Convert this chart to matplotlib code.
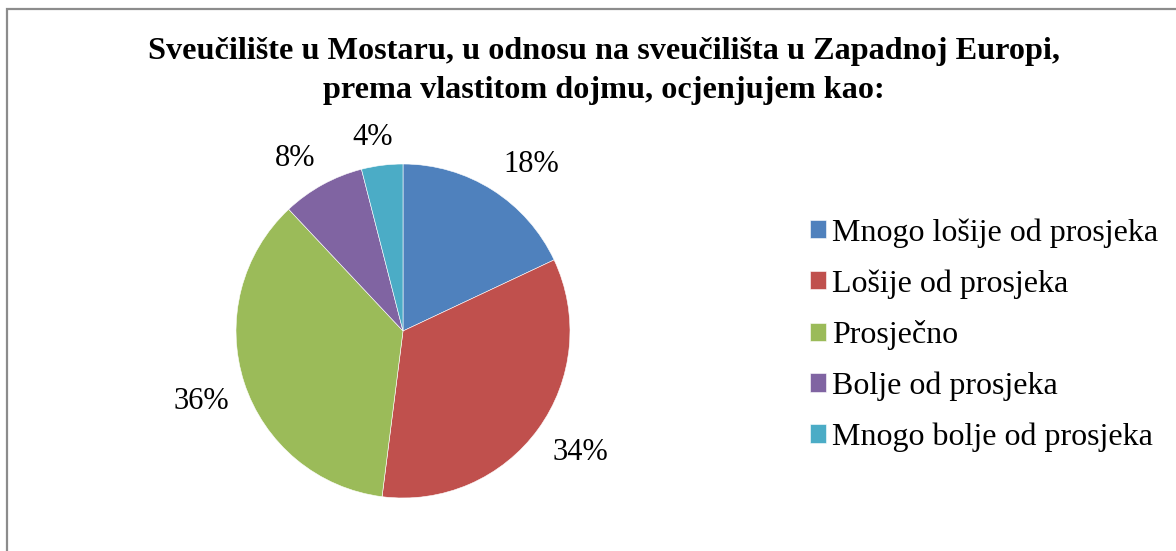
import matplotlib
matplotlib.use("Agg")
import numpy as np
import matplotlib.pyplot as plt
from matplotlib.patches import Rectangle

plt.rcParams['font.family'] = ['Liberation Serif', 'DejaVu Serif']

# data
categories = ['Mnogo lošije od prosjeka', 'Lošije od prosjeka', 'Prosječno',
              'Bolje od prosjeka', 'Mnogo bolje od prosjeka']
shares = [18, 34, 36, 8, 4]
colors = ['#4F81BD', '#C0504D', '#9BBB59', '#8064A2', '#4BACC6']
title = 'Sveučilište u Mostaru, u odnosu na sveučilišta u Zapadnoj Europi,\nprema vlastitom dojmu, ocjenjujem kao:'

W, H = 1176, 551
fig = plt.figure(figsize=(W / 100, H / 100), dpi=100)

# chart border (runs off right/bottom edge like the crop)
fig.patches.append(Rectangle((7 / W, -0.05), 1.2, (H - 9) / H + 0.05,
                             transform=fig.transFigure, fill=False,
                             edgecolor='#8c8c8c', linewidth=1.6))

# pie axes: centre (403, 331) px, radius 167 px
cx, cy, r = 403, 331, 167
ax = fig.add_axes([(cx - r) / W, (H - cy - r) / H, 2 * r / W, 2 * r / H])
wedges, _ = ax.pie(
    shares, colors=colors, startangle=90, counterclock=False, radius=1,
    wedgeprops=dict(edgecolor='white', linewidth=0.4))
ax.set_xlim(-1, 1)
ax.set_ylim(-1, 1)
ax.set_aspect('equal')
ax.axis('off')

# data labels placed just outside each slice (Excel "outside end" style)
lab_fs = 22
for w, s in zip(wedges, shares):
    t = np.deg2rad((w.theta1 + w.theta2) / 2)
    c, sn = np.cos(t), np.sin(t)
    txt = f'{s}%'
    dx = np.clip(3 * c, -1, 1) * 0.36 * lab_fs * len(txt)
    dy = np.clip(3 * sn, -1, 1) * 0.55 * lab_fs
    ax.annotate(txt, xy=(1.065 * c, 1.065 * sn), xytext=(dx, dy),
                textcoords='offset points', ha='center', va='center',
                fontsize=lab_fs, annotation_clip=False)

fig.text(604 / W, (H - 71) / H, title, ha='center', va='center',
         fontsize=23.2, fontweight='bold', linespacing=1.42)

fig.legend(wedges, categories, loc='center left',
           bbox_to_anchor=(810 / W, (H - 335) / H),
           frameon=False, fontsize=23, borderpad=0, borderaxespad=0,
           handlelength=0.5, handleheight=0.5, handletextpad=0.2,
           labelspacing=0.67)

fig.savefig('out.png', dpi=100)
